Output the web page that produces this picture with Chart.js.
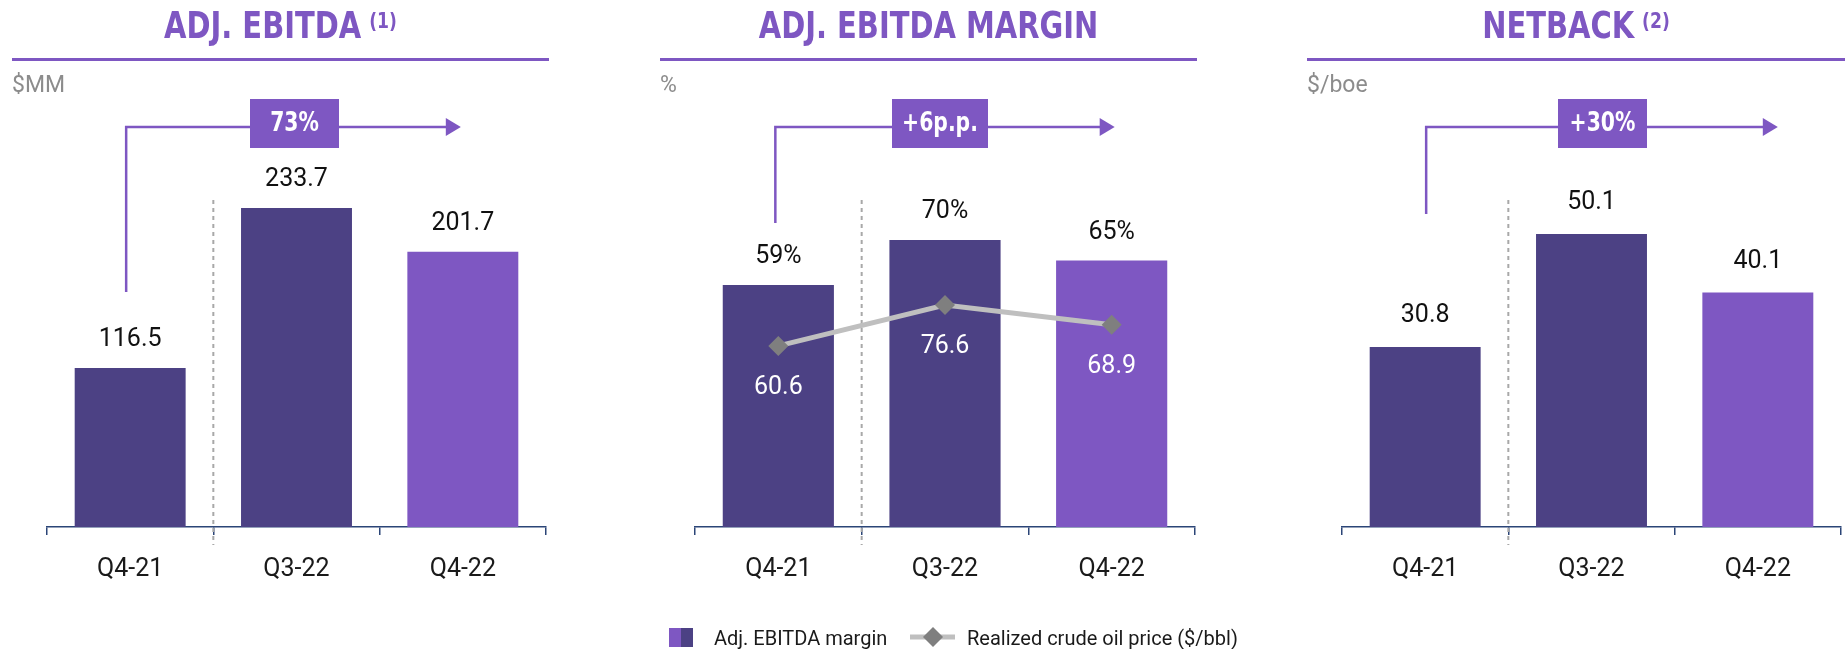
<!DOCTYPE html>
<html>
<head>
<meta charset="utf-8">
<title>Adj. EBITDA / margin / netback</title>
<script src="https://cdn.jsdelivr.net/npm/chart.js@4.4.1/dist/chart.umd.min.js"></script>
<style>
  html, body { margin: 0; padding: 0; background: #ffffff; }
  #wrap { position: relative; width: 1845px; height: 649px; overflow: hidden; }
  #wrap canvas { position: absolute; left: 0; top: 0; }
</style>
</head>
<body>
<div id="wrap">
  <canvas id="c1" width="1845" height="649"></canvas>
  <canvas id="c2" width="1845" height="649"></canvas>
  <canvas id="c3" width="1845" height="649"></canvas>
</div>
<script>
// donnees
const categories = ["Q4-21", "Q3-22", "Q4-22"];
const ebitda = [116.5, 233.7, 201.7];
const ebitdaMargin = [59, 70, 65];
const crudePrice = [60.6, 76.6, 68.9];
const netback = [30.8, 50.1, 40.1];
const titles = ["ADJ. EBITDA", "ADJ. EBITDA MARGIN", "NETBACK"];
const titleNotes = ["(1)", "", "(2)"];
const units = ["$MM", "%", "$/boe"];
const changeLabels = ["73%", "+6p.p.", "+30%"];
const legendLabels = ["Adj. EBITDA margin", "Realized crude oil price ($/bbl)"];

const DARK = "#4c4184";
const LIGHT = "#7e57c2";
const NAVY = "#2b4577";
const TEXT_FONT = "Roboto, 'Noto Sans', sans-serif";
const TITLE_FONT = "'Liberation Sans Narrow', 'DejaVu Sans Condensed', 'Roboto', sans-serif";
const barColors = [DARK, DARK, LIGHT];

// mise en page (pixels)
const layouts = [
  { left: 47, right: 546, ruleL: 12, ruleR: 549, yMax: 240.3, labelGap: 28, fmt: v => v.toFixed(1),
    arrow: { vDx: -4, bottom: 292, boxDx: -2, boxW: 89, tipDx: -2 } },
  { left: 695, right: 1195, ruleL: 660, ruleR: 1197, yMax: 80, labelGap: 28, fmt: v => v + "%",
    arrow: { vDx: -3, bottom: 223, boxDx: -5, boxW: 96, tipDx: 3 } },
  { left: 1342, right: 1841, ruleL: 1307, ruleR: 1845, yMax: 56.1, labelGap: 31, fmt: v => v.toFixed(1),
    arrow: { vDx: 1, bottom: 214, boxDx: 11, boxW: 89, tipDx: 20 } }
];

function drawNarrow(ctx, text, x, y, sx) {
  ctx.save();
  ctx.translate(x, y);
  ctx.scale(sx, 1);
  ctx.fillText(text, 0, 0);
  ctx.restore();
}

function overlay(i) {
  const L = layouts[i];
  return {
    id: "overlay" + i,
    beforeDatasetsDraw(chart) {
      const x = chart.scales.x;
      const sep = (x.getPixelForValue(0) + x.getPixelForValue(1)) / 2;
      const ctx = chart.ctx;
      ctx.save();
      ctx.strokeStyle = "#a8a8a8";
      ctx.lineWidth = 2;
      ctx.setLineDash([4, 4]);
      ctx.beginPath();
      ctx.moveTo(sep, 200);
      ctx.lineTo(sep, 545);
      ctx.stroke();
      ctx.restore();
    },
    afterDatasetsDraw(chart) {
      const ctx = chart.ctx;
      ctx.save();
      ctx.textAlign = "center";
      ctx.textBaseline = "middle";
      ctx.font = "25px " + TEXT_FONT;
      chart.data.datasets.forEach((ds, d) => {
        const meta = chart.getDatasetMeta(d);
        meta.data.forEach((el, k) => {
          if (ds.type === "line") {
            ctx.fillStyle = "#ffffff";
            ctx.fillText(ds.data[k].toFixed(1), el.x, el.y + 42);
          } else {
            ctx.fillStyle = "#111111";
            ctx.fillText(L.fmt(ds.data[k]), el.x, el.y - L.labelGap);
          }
        });
      });
      ctx.restore();
    },
    afterDraw(chart) {
      const ctx = chart.ctx;
      const x = chart.scales.x;
      const SX = 0.87;
      ctx.save();
      // titre
      const mid = (L.ruleL + L.ruleR) / 2;
      ctx.fillStyle = LIGHT;
      ctx.textBaseline = "alphabetic";
      ctx.textAlign = "left";
      ctx.font = "bold 37px " + TITLE_FONT;
      const tw = ctx.measureText(titles[i]).width * SX;
      let nw = 0;
      if (titleNotes[i]) {
        ctx.font = "bold 22px " + TITLE_FONT;
        nw = ctx.measureText(titleNotes[i]).width * SX + 8;
      }
      const start = mid - (tw + nw) / 2;
      ctx.font = "bold 37px " + TITLE_FONT;
      drawNarrow(ctx, titles[i], start, 38, SX);
      if (titleNotes[i]) {
        ctx.font = "bold 22px " + TITLE_FONT;
        drawNarrow(ctx, titleNotes[i], start + tw + 8, 28, SX);
      }
      // filet
      ctx.strokeStyle = LIGHT;
      ctx.lineWidth = 3;
      ctx.beginPath();
      ctx.moveTo(L.ruleL, 59.5);
      ctx.lineTo(L.ruleR, 59.5);
      ctx.stroke();
      // unite
      ctx.fillStyle = "#8c8c8c";
      ctx.font = "23px " + TEXT_FONT;
      ctx.fillText(units[i], L.ruleL, 92);
      // fleche de variation
      const A = L.arrow;
      const xv = x.getPixelForValue(0) + A.vDx;
      const xb = x.getPixelForValue(1) + A.boxDx;
      const xt = x.getPixelForValue(2) + A.tipDx;
      const ya = 127;
      ctx.strokeStyle = LIGHT;
      ctx.lineWidth = 2.5;
      ctx.beginPath();
      ctx.moveTo(xv, A.bottom);
      ctx.lineTo(xv, ya);
      ctx.lineTo(xt - 12, ya);
      ctx.stroke();
      ctx.fillStyle = LIGHT;
      ctx.beginPath();
      ctx.moveTo(xt, ya);
      ctx.lineTo(xt - 15, ya - 9);
      ctx.lineTo(xt - 15, ya + 9);
      ctx.closePath();
      ctx.fill();
      ctx.fillRect(xb - A.boxW / 2, 99, A.boxW, 49);
      ctx.fillStyle = "#ffffff";
      ctx.font = "bold 26px " + TITLE_FONT;
      ctx.textBaseline = "middle";
      const cw = ctx.measureText(changeLabels[i]).width * SX;
      drawNarrow(ctx, changeLabels[i], xb - cw / 2, 124, SX);
      // legende (graphique du milieu)
      if (i === 1) {
        ctx.fillStyle = LIGHT;
        ctx.fillRect(669, 628, 12, 19);
        ctx.fillStyle = DARK;
        ctx.fillRect(681, 628, 12, 19);
        ctx.fillStyle = "#1a1a1a";
        ctx.font = "20px " + TEXT_FONT;
        ctx.textAlign = "left";
        ctx.textBaseline = "alphabetic";
        ctx.fillText(legendLabels[0], 714, 645);
        ctx.strokeStyle = "#bfbfbf";
        ctx.lineWidth = 5;
        ctx.beginPath();
        ctx.moveTo(910, 637);
        ctx.lineTo(955, 637);
        ctx.stroke();
        ctx.fillStyle = "#7f7f7f";
        ctx.beginPath();
        ctx.moveTo(933, 627);
        ctx.lineTo(943, 637);
        ctx.lineTo(933, 647);
        ctx.lineTo(923, 637);
        ctx.closePath();
        ctx.fill();
        ctx.fillStyle = "#1a1a1a";
        ctx.fillText(legendLabels[1], 967, 645);
      }
      ctx.restore();
    }
  };
}

function options(i, extraScales) {
  const L = layouts[i];
  const scales = {
    x: {
      offset: true,
      grid: { offset: true, drawOnChartArea: false, drawTicks: true, tickLength: 8, color: NAVY, lineWidth: 1.5 },
      border: { display: true, color: NAVY, width: 1.5 },
      ticks: { color: "#1a1a1a", font: { family: TEXT_FONT, size: 25 }, padding: 20 }
    },
    y: { display: false, min: 0, max: L.yMax }
  };
  Object.assign(scales, extraScales || {});
  return {
    responsive: false,
    animation: false,
    layout: { padding: { left: L.left, right: 1845 - L.right, top: 199, bottom: 44 } },
    plugins: { legend: { display: false }, tooltip: { enabled: false } },
    scales: scales
  };
}

function barSet(values, label) {
  return {
    type: "bar",
    label: label,
    data: values,
    backgroundColor: barColors,
    borderWidth: 0,
    barPercentage: 0.667,
    categoryPercentage: 1.0,
    order: 1
  };
}

new Chart(document.getElementById("c1").getContext("2d"), {
  type: "bar",
  data: { labels: categories, datasets: [barSet(ebitda, "Adj. EBITDA")] },
  options: options(0),
  plugins: [overlay(0)]
});

new Chart(document.getElementById("c2").getContext("2d"), {
  type: "bar",
  data: {
    labels: categories,
    datasets: [
      barSet(ebitdaMargin, legendLabels[0]),
      {
        type: "line",
        label: legendLabels[1],
        data: crudePrice,
        yAxisID: "y1",
        borderColor: "#bfbfbf",
        borderWidth: 5,
        pointStyle: "rectRot",
        pointRadius: 10,
        pointBackgroundColor: "#7f7f7f",
        pointBorderWidth: 0,
        order: 0
      }
    ]
  },
  options: options(1, { y1: { display: false, min: -10.4, max: 118.2 } }),
  plugins: [overlay(1)]
});

new Chart(document.getElementById("c3").getContext("2d"), {
  type: "bar",
  data: { labels: categories, datasets: [barSet(netback, "Netback")] },
  options: options(2),
  plugins: [overlay(2)]
});
</script>
</body>
</html>
